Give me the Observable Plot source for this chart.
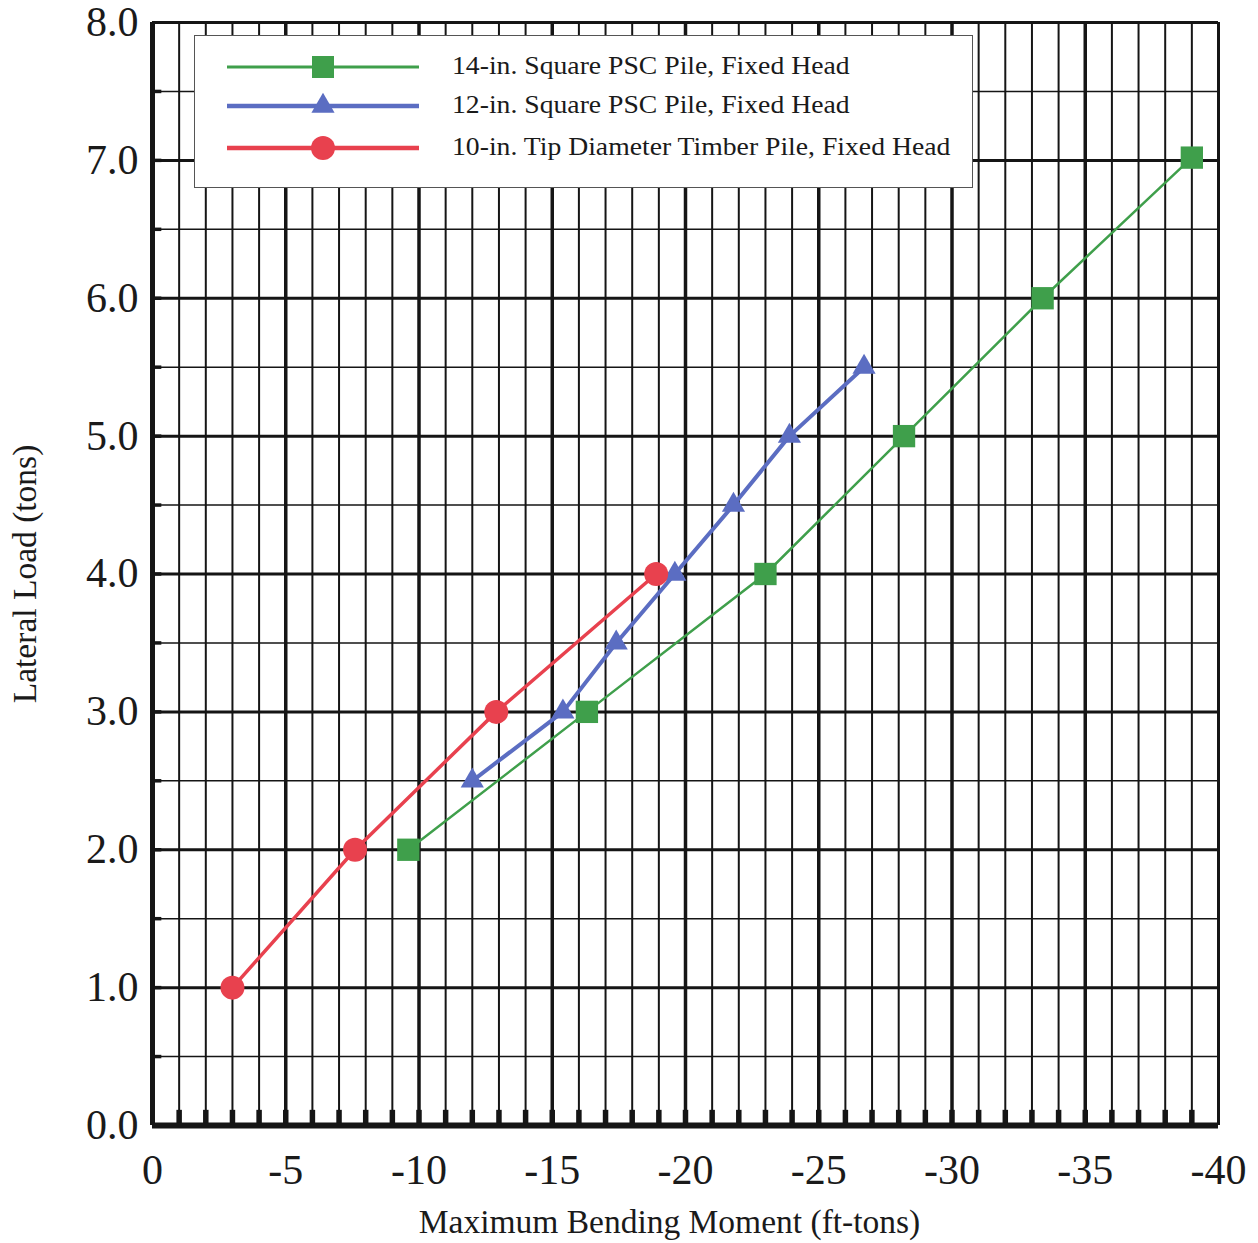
<!DOCTYPE html>
<html><head><meta charset="utf-8">
<script src="https://cdn.jsdelivr.net/npm/d3@7"></script>
<script src="https://cdn.jsdelivr.net/npm/@observablehq/plot@0.6"></script>
<style>
body{margin:0;background:#fff;}
#wrap{position:relative;width:1258px;height:1243px;font-family:"Liberation Serif","Times New Roman",serif;}
#legend{position:absolute;left:194px;top:35px;width:779px;height:153px;background:#fff;border:1.5px solid #555;box-sizing:border-box;}
.row{position:absolute;left:0;height:40px;width:770px;}
.row svg{position:absolute;left:30px;top:0;}
.row span{position:absolute;left:257px;top:2px;font-size:24.5px;line-height:34px;color:#1a1a1a;white-space:nowrap;transform:scaleX(1.13);transform-origin:0 50%;}
</style></head><body><div id="wrap"></div>
<script>
const seriesNames = ["14-in. Square PSC Pile, Fixed Head", "12-in. Square PSC Pile, Fixed Head", "10-in. Tip Diameter Timber Pile, Fixed Head"];
const seriesColors = ["#3f9f4b", "#5b6dc2", "#e8414e"];
const seriesSymbols = ["square", "triangle", "circle"];
const greenMoment = [-9.6, -16.3, -23.0, -28.2, -33.4, -39.0];
const greenLoad = [2.0, 3.0, 4.0, 5.0, 6.0, 7.02];
const blueMoment = [-12.0, -15.4, -17.4, -19.6, -21.8, -23.9, -26.7];
const blueLoad = [2.5, 3.0, 3.5, 4.0, 4.5, 5.0, 5.5];
const redMoment = [-3.0, -7.6, -12.9, -18.9];
const redLoad = [1.0, 2.0, 3.0, 4.0];
const xTicks = [0, -5, -10, -15, -20, -25, -30, -35, -40];
const yTicks = [0, 1, 2, 3, 4, 5, 6, 7, 8];
const xTitle = "Maximum Bending Moment (ft-tons)";
const yTitle = "Lateral Load (tons)";

const green = greenMoment.map((m, i) => ({m, l: greenLoad[i]}));
const blue = blueMoment.map((m, i) => ({m, l: blueLoad[i]}));
const red = redMoment.map((m, i) => ({m, l: redLoad[i]}));

const minorX = d3.range(-1, -40, -1);
const halfY = d3.range(0.5, 8, 1);
const intY = d3.range(1, 8, 1);
const stubY = d3.range(0.5, 8, 0.5);
const ink = "#151515";

const chart = Plot.plot({
  width: 1258, height: 1243,
  marginLeft: 152, marginRight: 40, marginTop: 22, marginBottom: 118,
  x: {domain: [0, -40]},
  y: {domain: [0, 8]},
  style: {fontFamily: "'Liberation Serif', 'Times New Roman', serif", color: "#1a1a1a", background: "#fff"},
  marks: [
    Plot.ruleY(halfY, {stroke: ink, strokeWidth: 1.4}),
    Plot.ruleY(intY, {stroke: ink, strokeWidth: 3}),
    Plot.ruleX(minorX.filter(v => v % 5 !== 0), {stroke: ink, strokeWidth: 2}),
    Plot.ruleX(minorX.filter(v => v % 5 === 0), {stroke: ink, strokeWidth: 3.5}),
    Plot.ruleX(minorX, {y1: 0, y2: 0.11, stroke: ink, strokeWidth: 5.5}),
    Plot.ruleY(stubY, {x1: 0, x2: -0.35, stroke: ink, strokeWidth: 3.5}),
    Plot.ruleY([8], {stroke: ink, strokeWidth: 3}),
    Plot.ruleX([-40], {stroke: ink, strokeWidth: 3}),
    Plot.ruleX([0], {stroke: ink, strokeWidth: 5}),
    Plot.ruleY([0], {stroke: ink, strokeWidth: 6}),
    Plot.line(green, {x: "m", y: "l", stroke: seriesColors[0], strokeWidth: 2.5}),
    Plot.line(blue, {x: "m", y: "l", stroke: seriesColors[1], strokeWidth: 4}),
    Plot.line(red, {x: "m", y: "l", stroke: seriesColors[2], strokeWidth: 3.5}),
    Plot.dot(green, {x: "m", y: "l", symbol: seriesSymbols[0], fill: seriesColors[0], r: 12.6}),
    Plot.dot(blue, {x: "m", y: "l", symbol: seriesSymbols[1], fill: seriesColors[1], r: 8.6}),
    Plot.dot(red, {x: "m", y: "l", symbol: seriesSymbols[2], fill: seriesColors[2], r: 12}),
    Plot.axisX({ticks: xTicks, tickSize: 0, tickPadding: 29, fontSize: 42, tickFormat: d => String(d), label: null}),
    Plot.axisY({ticks: yTicks, tickSize: 0, tickPadding: 14, fontSize: 42, tickFormat: d3.format(".1f"), label: null}),
    Plot.text([xTitle], {frameAnchor: "bottom", dx: -16, dy: 107, fontSize: 33.5, text: d => d}),
    Plot.text([yTitle], {frameAnchor: "left", textAnchor: "middle", dx: -127, rotate: -90, fontSize: 33.5, text: d => d})
  ]
});

const wrap = document.getElementById("wrap");
wrap.appendChild(chart);

const legend = document.createElement("div");
legend.id = "legend";
const rowTops = [11, 50, 92];
seriesNames.forEach((name, i) => {
  const row = document.createElement("div");
  row.className = "row";
  row.style.top = rowTops[i] + "px";
  const svg = d3.create("svg").attr("width", 196).attr("height", 40);
  svg.append("line").attr("x1", 2).attr("x2", 194).attr("y1", 20).attr("y2", 20)
    .attr("stroke", seriesColors[i]).attr("stroke-width", i === 0 ? 3 : 4.5);
  const sym = {square: d3.symbolSquare, triangle: d3.symbolTriangle, circle: d3.symbolCircle}[seriesSymbols[i]];
  const size = seriesSymbols[i] === "square" ? 22 * 22 : seriesSymbols[i] === "triangle" ? Math.PI * 8.6 * 8.6 : Math.PI * 12 * 12;
  svg.append("path").attr("d", d3.symbol(sym, size)()).attr("transform", "translate(98,20)").attr("fill", seriesColors[i]);
  row.appendChild(svg.node());
  const span = document.createElement("span");
  span.textContent = name;
  row.appendChild(span);
  legend.appendChild(row);
});
wrap.appendChild(legend);
</script>
</body></html>
